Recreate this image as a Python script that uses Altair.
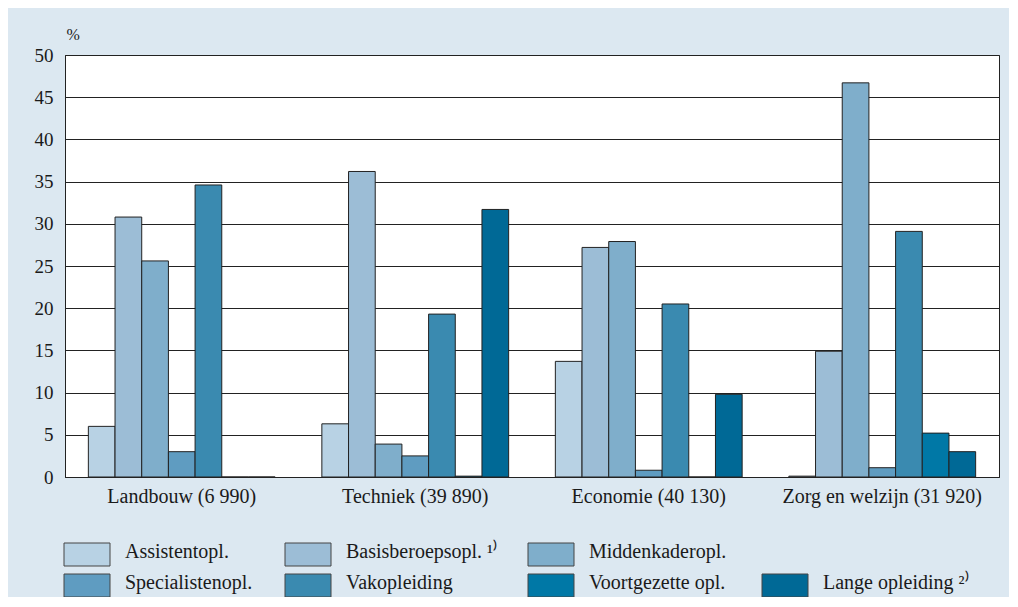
import altair as alt
import pandas as pd

groups = ["Landbouw (6 990)", "Techniek (39 890)", "Economie (40 130)", "Zorg en welzijn (31 920)"]
cats = ["Assistentopl.", "Basisberoepsopl.", "Middenkaderopl.", "Specialistenopl.",
        "Vakopleiding", "Voortgezette opl.", "Lange opleiding"]
legend_labels = ["Assistentopl.", "Basisberoepsopl. ¹⁾", "Middenkaderopl.", "Specialistenopl.",
                 "Vakopleiding", "Voortgezette opl.", "Lange opleiding ²⁾"]
colors = ["#b8d2e4", "#9cbdd6", "#7faecb", "#5f9cc1", "#3a8ab0", "#0078a6", "#006996"]

assistent = [6.0, 6.3, 13.7, 0.1]
basis = [30.8, 36.2, 27.2, 14.9]
midden = [25.6, 3.9, 27.9, 46.7]
specialist = [3.0, 2.5, 0.8, 1.1]
vako = [34.6, 19.3, 20.5, 29.1]
voortgezet = [0.0, 0.1, 0.0, 5.2]
lange = [0.0, 31.7, 9.8, 3.0]
series = [assistent, basis, midden, specialist, vako, voortgezet, lange]

rows = []
for c, vals in zip(cats, series):
    for g, v in zip(groups, vals):
        rows.append({"group": g, "cat": c, "value": v})
df = pd.DataFrame(rows)

# legend layout (3 items in first row, 4 in second), in plot-area pixels
PLOT_W, PLOT_H = 934, 422
col_x = [-1, 220, 463, 697]
row_y = [488, 519]
SYM_W, SYM_H, TXT_GAP, BASE_OFF = 46, 23, 61, 15
leg_rows = []
for i, (c, lab) in enumerate(zip(cats, legend_labels)):
    r = 0 if i < 3 else 1
    k = i if i < 3 else i - 3
    leg_rows.append({"cat": c, "label": lab,
                     "x1": col_x[k], "x2": col_x[k] + SYM_W,
                     "y1": row_y[r], "y2": row_y[r] + SYM_H,
                     "tx": col_x[k] + TXT_GAP, "ty": row_y[r] + BASE_OFF})
leg = pd.DataFrame(leg_rows)

FONT = "Liberation Serif"
TXT = "#1a1a1a"
color_scale = alt.Scale(domain=cats, range=colors)

bars = alt.Chart(df).mark_bar(stroke="#222", strokeWidth=1).encode(
    x=alt.X("group:N", sort=groups, title=None,
            scale=alt.Scale(paddingInner=0.2, paddingOuter=0.1),
            axis=alt.Axis(labelAngle=0, ticks=False, labelFontSize=20, labelFont=FONT,
                          labelLimit=0, labelColor=TXT, labelPadding=9, domainColor="#222")),
    xOffset=alt.XOffset("cat:N", sort=cats, scale=alt.Scale(paddingInner=0, paddingOuter=0)),
    y=alt.Y("value:Q", scale=alt.Scale(domain=[0, 50]),
            axis=alt.Axis(values=list(range(0, 51, 5)), ticks=False, labelPadding=12,
                          labelFontSize=19, labelFont=FONT, labelColor=TXT,
                          domainColor="#222", gridColor="#222", gridOpacity=1,
                          title="%", titleAngle=0, titleAlign="left", titleBaseline="alphabetic",
                          titleX=1, titleY=-16, titleFont=FONT, titleFontSize=16,
                          titleFontWeight="normal", titleColor=TXT)),
    color=alt.Color("cat:N", scale=color_scale, legend=None),
)

leg_box = alt.Chart(leg).mark_rect(stroke="#444", strokeWidth=1).encode(
    x=alt.X("x1:Q", scale=None, axis=None),
    x2="x2:Q",
    y=alt.Y("y1:Q", scale=None, axis=None),
    y2="y2:Q",
    color=alt.Color("cat:N", scale=color_scale, legend=None),
)

leg_txt = alt.Chart(leg).mark_text(align="left", baseline="alphabetic", font=FONT,
                                   fontSize=20, color=TXT).encode(
    x=alt.X("tx:Q", scale=None, axis=None),
    y=alt.Y("ty:Q", scale=None, axis=None),
    text="label:N",
)

chart = alt.layer(bars, leg_box, leg_txt).resolve_scale(
    x="independent", y="independent"
).properties(
    width=PLOT_W, height=PLOT_H,
    background="#dce8f1",
    padding={"left": 57, "top": 47, "right": 10, "bottom": 120},
    autosize=alt.AutoSizeParams(type="none"),
).configure_view(fill="white", stroke="#222", strokeWidth=1)

chart.save("out.html", embed_options={"renderer": "svg", "actions": False})
